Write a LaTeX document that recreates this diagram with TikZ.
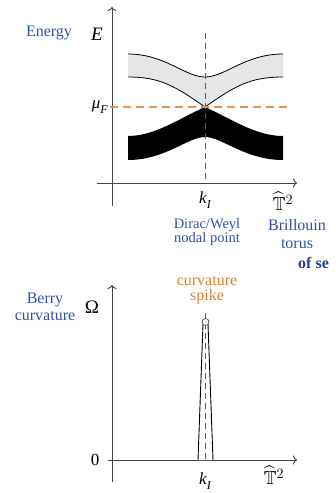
\documentclass[tikz,border=0pt]{standalone}
\usepackage{amsmath}
\usepackage{amssymb}
\usepackage{fontspec}
\setmainfont{Liberation Serif}
\usetikzlibrary{arrows.meta}
\definecolor{lblue}{HTML}{3050B0}
\definecolor{lorange}{HTML}{D9822B}
\definecolor{dorange}{HTML}{E0954A}
\definecolor{lmag}{HTML}{D02060}
\definecolor{axgray}{HTML}{444444}
\definecolor{bandgray}{HTML}{E6E6E6}
\newcommand{\subit}[1]{\raisebox{-0.28em}{\fontsize{12}{12}\selectfont\itshape #1}}
\tikzset{
  axis/.style={draw=axgray, line width=0.9pt, -{To[length=4pt,width=9pt]}},
  bluetxt/.style={text=lblue, font=\fontsize{16}{17.5}\selectfont, align=center, inner sep=0pt},
  smallblue/.style={text=lblue, font=\fontsize{14.5}{14.5}\selectfont, align=center, inner sep=0pt},
  orangetxt/.style={text=lorange, font=\fontsize{16}{15}\selectfont, align=center, inner sep=0pt},
  mathlbl/.style={font=\fontsize{17}{19}\selectfont, inner sep=0pt},
  biglbl/.style={font=\fontsize{19}{21}\selectfont, inner sep=0pt},
  magdash/.style={draw=lmag, line width=1pt, dash pattern=on 6pt off 4pt},
  oradash/.style={draw=dorange, line width=1.1pt, dash pattern=on 8pt off 5pt},
  edge/.style={draw=black, line width=0.8pt}
}
\begin{document}
\begin{tikzpicture}[x=1pt, y=-1pt]
\useasboundingbox (0,0) rectangle (335,493);
% ---------- top plot ----------
% upper band (light)
\fill[bandgray] (128,54) .. controls (165,54) and (185,77) .. (205,77)
  .. controls (225,77) and (245,54) .. (283,54) -- (283,77)
  .. controls (250,77) and (235,86) .. (205,107)
  .. controls (175,86) and (160,77) .. (128,77) -- cycle;
\draw[edge] (128,54) .. controls (165,54) and (185,77) .. (205,77)
  .. controls (225,77) and (245,54) .. (283,54);
\draw[edge] (128,77) .. controls (160,77) and (175,86) .. (205,107)
  .. controls (235,86) and (250,77) .. (283,77);
% lower band (black)
\fill[black] (128,136) .. controls (155,136) and (180,118) .. (205,107)
  .. controls (230,118) and (255,136) .. (283,136) -- (283,160)
  .. controls (245,160) and (222,137) .. (205,137)
  .. controls (188,137) and (165,160) .. (128,160) -- cycle;
% axes
\coordinate (ex0) at (97,183);
\coordinate (ex1) at (297,183);
\coordinate (ey0) at (112,206);
\coordinate (ey1) at (112,7);
\draw[axis] (ex0) -- (ex1);
\draw[axis] (ey0) -- (ey1);
% dashed lines
\coordinate (kt0) at (205,33);
\coordinate (kt1) at (205,183);
\coordinate (mu0) at (110,107);
\coordinate (mu1) at (291,107);
\draw[magdash] (kt0) -- (kt1);
\draw[oradash] (mu0) -- (mu1);
% labels
\node[bluetxt] (energy) at (49,33) {Energy};
\node[biglbl] (E) at (97,34) {\itshape E};
\node[mathlbl, anchor=east] (mu) at (108,107) {\itshape μ\subit{F}};
\node[mathlbl] (k1) at (205,200) {\itshape k\subit{I}};
\node[biglbl] (T1) at (283,201) {$\widehat{\mathbb{T}}^2$};
\node[smallblue] (dirac) at (207,232) {Dirac/Weyl\\nodal point};
\node[bluetxt] (brill) at (297,234) {Brillouin\\torus};
\node[text=lblue!80!black, font=\fontsize{16}{17}\selectfont\bfseries, anchor=base west, inner sep=0pt] (ofse) at (298,268) {of se};
% ---------- bottom plot ----------
\coordinate (bx0) at (108,460);
\coordinate (bx1) at (297,460);
\coordinate (by0) at (112,482);
\coordinate (by1) at (112,285);
\draw[axis] (bx0) -- (bx1);
\draw[axis] (by0) -- (by1);
% spike
\coordinate (sl) at (198,460);
\coordinate (sr) at (213,460);
\coordinate (stl) at (203,324);
\coordinate (str) at (208,324);
\filldraw[fill=white, draw=black, line width=0.9pt] (sl) -- (stl) -- (str) -- (sr);
\coordinate (kb0) at (205,313);
\coordinate (kb1) at (205,460);
\draw[magdash] (kb0) -- (kb1);
\node[circle, draw=axgray, fill=white, line width=0.7pt, minimum size=7pt, inner sep=0pt] (apex) at (205.5,322) {};
% labels
\node[bluetxt] (berry) at (45,307) {Berry\\curvature};
\node[biglbl] (Om) at (92,307) {Ω};
\node[mathlbl] (zero) at (95,460) {0};
\node[mathlbl] (k2) at (205,481) {\itshape k\subit{I}};
\node[biglbl] (T2) at (274,475) {$\widehat{\mathbb{T}}^2$};
\node[orangetxt] (spike) at (207,290) {curvature\\spike};
\end{tikzpicture}
\end{document}
